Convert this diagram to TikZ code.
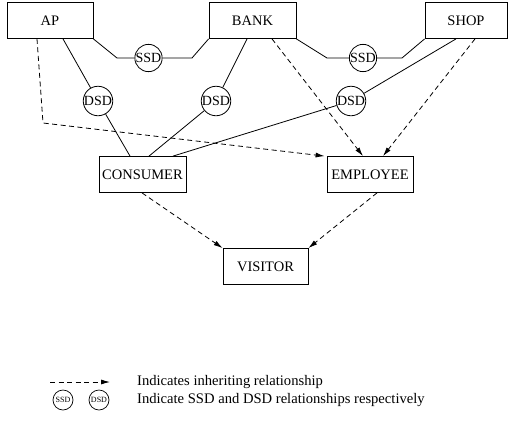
\documentclass[tikz,border=0pt]{standalone}
\usepackage{fontspec}
\setmainfont{Liberation Serif}
\usetikzlibrary{arrows.meta,positioning}

\begin{document}
\begin{tikzpicture}[
		x=1pt, y=-1pt,
		role/.style={draw, line width=0.8pt, minimum height=36pt, inner sep=0pt, font=\fontsize{14.5}{16}\selectfont},
		sod/.style={draw, circle, line width=0.8pt, minimum size=27pt, inner sep=0pt, font=\fontsize{14}{15}\selectfont},
		smallsod/.style={draw, circle, line width=0.7pt, minimum size=20pt, inner sep=0pt, font=\fontsize{8}{9}\selectfont},
		link/.style={line width=0.8pt},
		inherit/.style={line width=0.8pt, dash pattern=on 5pt off 3.5pt, -{Latex[length=9pt,width=5pt]}},
		legend/.style={anchor=west, inner sep=0pt, font=\fontsize{14.6}{16}\selectfont}
		]
		\useasboundingbox (0,0) rectangle (508,421);
		
		% Roles
		\node[role, minimum width=86pt] (ap) at (50,20.5) {AP\hspace{12pt}};
		\node[role, minimum width=87pt] (bank) at (252.5,20.5) {BANK};
		\node[role, minimum width=82pt] (shop) at (466,20.5) {SHOP};
		\node[role, minimum width=87pt] (consumer) at (142.5,174.5) {CONSUMER};
		\node[role, minimum width=86pt] (employee) at (370,174.5) {EMPLOYEE};
		\node[role, minimum width=85pt] (visitor) at (265.5,266.5) {VISITOR};
		
		% SSD constraints
		\node[sod] (ssdA) at (148.5,58) {SSD};
		\node[sod] (ssdB) at (363,58) {SSD};
		\coordinate (ssdAl) at (117,58);
		\coordinate (ssdAr) at (192,58);
		\coordinate (ssdBl) at (327,58);
		\coordinate (ssdBr) at (402,58);
		\draw[link] (ap.south east) -- (ssdAl) -- (ssdA) -- (ssdAr) -- (bank.south west);
		\draw[link] (bank.south east) -- (ssdBl) -- (ssdB) -- (ssdBr) -- (shop.south west);
		
		% DSD constraints
		\node[sod] (dsdA) at (98,101) {DSD};
		\node[sod] (dsdB) at (216,101) {DSD};
		\node[sod] (dsdC) at (351,101) {DSD};
		\draw[link] ([xshift=13pt]ap.south) -- (dsdA) -- ([xshift=-12.5pt]consumer.north);
		\draw[link] ([xshift=-5.5pt]bank.south) -- (dsdB) -- ([xshift=6.5pt]consumer.north);
		\draw[link] ([xshift=-10pt]shop.south) -- (dsdC) -- ([xshift=30.5pt]consumer.north);
		
		% Inheritance
		\coordinate (apbend) at (43,123);
		\draw[inherit] ([xshift=-13pt]ap.south) -- (apbend) -- ([xshift=-2pt]employee.north west);
		\draw[inherit] ([xshift=19.5pt]bank.south) -- ([xshift=-7pt]employee.north);
		\draw[inherit] ([xshift=9pt]shop.south) -- ([xshift=13pt]employee.north);
		\draw[inherit] ([xshift=-0.5pt]consumer.south) -- (visitor.north west);
		\draw[inherit] ([xshift=7pt]employee.south) -- (visitor.north east);
		
		% Legend
		\coordinate (legA) at (50,382);
		\coordinate (legB) at (110,382);
		\draw[inherit] (legA) -- (legB);
		\node[legend] (legInherit) at (137,382) {Indicates inheriting relationship};
		\node[smallsod] (legSSD) at (63,400) {SSD};
		\node[smallsod] (legDSD) at (99,400) {DSD};
		\node[legend] (legSod) at (137,400) {Indicate SSD and DSD relationships respectively};
		
	\end{tikzpicture}
\end{document}
